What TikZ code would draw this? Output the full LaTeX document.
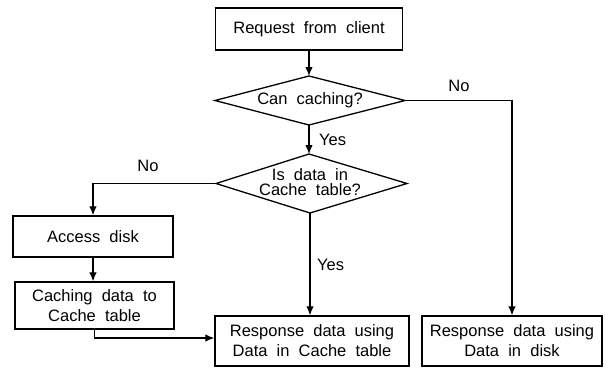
\documentclass[tikz,border=0pt]{standalone}
\usepackage{fontspec}
\setmainfont{Liberation Sans}[WordSpace=2]
\usetikzlibrary{arrows.meta}
\begin{document}
\begin{tikzpicture}[x=1pt,y=-1pt,
  font=\fontsize{16.5}{20}\selectfont,
  every node/.style={inner sep=0pt},
  proc/.style={draw,line width=1.3pt,align=center},
  outline/.style={draw,line width=1.3pt,line join=miter},
  flow/.style={line width=1.2pt,-{Latex[length=9pt,width=7.5pt]}},
  lbl/.style={font=\fontsize{16.5}{20}\selectfont}]
\useasboundingbox (0,0) rectangle (609,367);

% process boxes
\node[proc,minimum width=187pt,minimum height=42pt] (req) at (309,29) {Request from client};
\node[proc,minimum width=160pt,minimum height=41pt] (access) at (93,236.5) {Access disk};
\node[proc,minimum width=159pt,minimum height=47pt] (store) at (94.5,305.5) {Caching data to\\Cache table};
\node[proc,minimum width=194pt,minimum height=50pt] (respc) at (312,341) {Response data using\\Data in Cache table};
\node[proc,minimum width=180pt,minimum height=50pt] (respd) at (512,341) {Response data using\\Data in disk};

% decision "Can caching?"
\coordinate (canN) at (309,76);
\coordinate (canS) at (309,125);
\coordinate (canW) at (215,100.5);
\coordinate (canE) at (405,100.5);
\draw[outline] (canN) -- (canE) -- (canS) -- (canW) -- cycle;
\node (can) at (310,100) {Can caching?};

% decision "Is data in Cache table?"
\coordinate (hitN) at (309,154);
\coordinate (hitS) at (310,213);
\coordinate (hitW) at (216,183.5);
\coordinate (hitE) at (407,183.5);
\draw[outline] (hitN) -- (hitE) -- (hitS) -- (hitW) -- cycle;
\node[align=center,font=\fontsize{16.5}{15}\selectfont] (hit) at (310,182) {Is data in\\Cache table?};

% connectors
\draw[flow] (req.south) -- (canN);
\draw[flow] (canS) -- (hitN);
\draw[flow] (canE) -| (respd.north);
\draw[flow] (hitW) -| (access.north);
\draw[flow] (hitS) -- (hitS |- respc.north);
\draw[flow] (access.south) -- (access.south |- store.north);
\draw[flow] (store.south) |- ([yshift=3pt]respc.west);

% branch labels
\node[lbl,anchor=west] (yes1) at (319,140) {Yes};
\node[lbl] (no1) at (459,86) {No};
\node[lbl] (no2) at (148,166) {No};
\node[lbl,anchor=west] (yes2) at (317,265) {Yes};
\end{tikzpicture}
\end{document}
